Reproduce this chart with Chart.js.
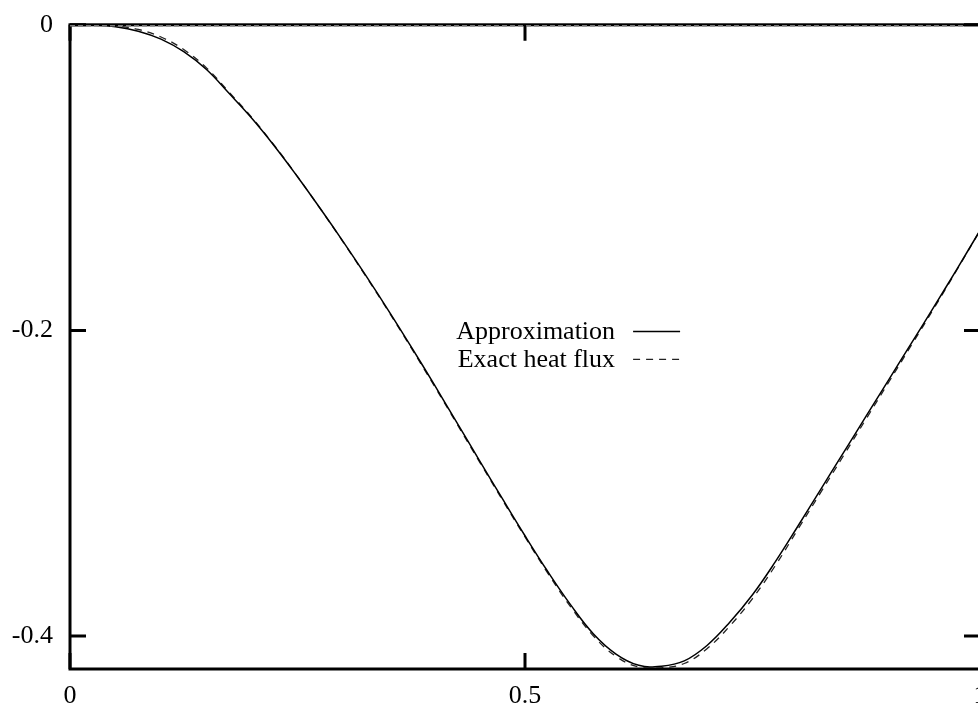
<!DOCTYPE html>
<html lang="en">
<head>
  <meta charset="UTF-8">
  <title>Heat flux approximation</title>
  <script src="https://cdn.jsdelivr.net/npm/chart.js"></script>
  <style>
    html, body { margin: 0; padding: 0; background: #fff; overflow: hidden; }
    canvas { display: block; }
  </style>
</head>
<body>
  <canvas id="fluxChart" width="1020" height="711"></canvas>

  <script>
    // Sample positions along x
    var xs = [0, 0.025, 0.05, 0.075, 0.1, 0.125, 0.15, 0.175, 0.2, 0.225,
              0.25, 0.275, 0.3, 0.325, 0.35, 0.375, 0.4, 0.425, 0.45, 0.475,
              0.5, 0.525, 0.55, 0.575, 0.6, 0.625, 0.65, 0.675, 0.7, 0.725,
              0.75, 0.775, 0.8, 0.825, 0.85, 0.875, 0.9, 0.925, 0.95, 0.975, 1];

    // Approximated heat flux
    var approximation = [0, -0.0002, -0.0013, -0.0042, -0.0094, -0.0176, -0.0293, -0.0450, -0.0613, -0.0796,
                         -0.0994, -0.1202, -0.1417, -0.1640, -0.1870, -0.2108, -0.2352, -0.2602, -0.2852, -0.3100,
                         -0.3344, -0.3578, -0.3795, -0.3985, -0.4118, -0.4192, -0.4198, -0.4163, -0.4062, -0.3910,
                         -0.3730, -0.3515, -0.3280, -0.3040, -0.2800, -0.2560, -0.2320, -0.2080, -0.1840, -0.1595, -0.1346];

    // Exact heat flux
    var exactFlux = [0, -0.0001, -0.0008, -0.0030, -0.0080, -0.0162, -0.0282, -0.0442, -0.0608, -0.0793,
                     -0.0993, -0.1203, -0.1420, -0.1645, -0.1876, -0.2115, -0.2360, -0.2610, -0.2860, -0.3108,
                     -0.3352, -0.3588, -0.3808, -0.3998, -0.4133, -0.4203, -0.4208, -0.4180, -0.4083, -0.3935,
                     -0.3755, -0.3540, -0.3300, -0.3060, -0.2820, -0.2578, -0.2336, -0.2093, -0.1850, -0.1600, -0.1346];

    var xTicks = [0, 0.5, 1];
    var yTicks = [0, -0.2, -0.4];
    var yMin = -0.4216;

    var serif = "'Liberation Serif', 'Times New Roman', serif";
    var fontSize = 26;

    function points(ys) {
      return xs.map(function(x, i) { return { x: x, y: ys[i] }; });
    }

    // Box, inward tick marks, zero axis and key
    var framePlugin = {
      id: 'frame',
      afterDatasetsDraw: function(chart) {
        var ctx = chart.ctx;
        var a = chart.chartArea;
        var sx = chart.scales.x, sy = chart.scales.y;
        var tick = 16;

        ctx.save();
        ctx.strokeStyle = '#000';
        ctx.lineWidth = 3;
        ctx.setLineDash([]);
        ctx.strokeRect(a.left, a.top, a.right - a.left, a.bottom - a.top);

        ctx.beginPath();
        yTicks.forEach(function(v) {
          var py = sy.getPixelForValue(v);
          ctx.moveTo(a.left, py); ctx.lineTo(a.left + tick, py);
          ctx.moveTo(a.right, py); ctx.lineTo(a.right - tick, py);
        });
        xTicks.forEach(function(v) {
          var px = sx.getPixelForValue(v);
          ctx.moveTo(px, a.bottom); ctx.lineTo(px, a.bottom - tick);
          ctx.moveTo(px, a.top); ctx.lineTo(px, a.top + tick);
        });
        ctx.stroke();

        // dotted zero axis
        var y0 = sy.getPixelForValue(0);
        ctx.strokeStyle = '#7a7a7a';
        ctx.lineWidth = 1.5;
        ctx.setLineDash([5, 3]);
        ctx.beginPath();
        ctx.moveTo(a.left, y0 + 1);
        ctx.lineTo(a.right - tick, y0 + 1);
        ctx.stroke();
        ctx.restore();
      },
      afterDraw: function(chart) {
        var ctx = chart.ctx;
        var a = chart.chartArea;
        var w = a.right - a.left, h = a.bottom - a.top;
        var textRight = a.left + 0.599 * w;
        var lineStart = textRight + 18, lineEnd = textRight + 65;
        var rowY = a.top + 0.476 * h;

        ctx.save();
        ctx.font = fontSize + 'px ' + serif;
        ctx.fillStyle = '#000';
        ctx.textAlign = 'right';
        ctx.textBaseline = 'middle';
        chart.data.datasets.forEach(function(ds, i) {
          var y = rowY + i * 28;
          ctx.fillText(ds.label, textRight, y + 1);
          ctx.strokeStyle = ds.borderColor;
          ctx.lineWidth = ds.borderWidth;
          ctx.setLineDash(ds.borderDash || []);
          ctx.beginPath();
          ctx.moveTo(lineStart, y);
          ctx.lineTo(lineEnd, y);
          ctx.stroke();
        });
        ctx.restore();
      }
    };

    var ctx = document.getElementById('fluxChart').getContext('2d');
    var chart = new Chart(ctx, {
      type: 'line',
      data: {
        datasets: [{
          label: 'Approximation',
          data: points(approximation),
          borderColor: '#000',
          borderWidth: 1.5,
          pointRadius: 0,
          tension: 0.4,
          fill: false
        }, {
          label: 'Exact heat flux',
          data: points(exactFlux),
          borderColor: '#222',
          borderWidth: 1.3,
          borderDash: [7, 6],
          pointRadius: 0,
          tension: 0.4,
          fill: false
        }]
      },
      options: {
        responsive: false,
        animation: false,
        layout: { padding: { top: 24, right: 40, bottom: 0, left: 0 } },
        plugins: {
          legend: { display: false },
          tooltip: { enabled: false }
        },
        scales: {
          x: {
            type: 'linear',
            min: 0,
            max: 1,
            afterFit: function(s) { s.height = 42; },
            afterBuildTicks: function(s) { s.ticks = xTicks.map(function(v) { return { value: v }; }); },
            grid: { display: false, drawTicks: false },
            border: { display: false },
            ticks: {
              color: '#000',
              padding: 12,
              maxRotation: 0,
              font: { family: serif, size: fontSize },
              callback: function(v) { return String(v); }
            }
          },
          y: {
            type: 'linear',
            min: yMin,
            max: 0,
            afterFit: function(s) { s.width = 70; },
            afterBuildTicks: function(s) { s.ticks = yTicks.map(function(v) { return { value: v }; }); },
            grid: { display: false, drawTicks: false },
            border: { display: false },
            ticks: {
              color: '#000',
              padding: 17,
              font: { family: serif, size: fontSize, lineHeight: 0.6 },
              callback: function(v) { return String(v); }
            }
          }
        }
      },
      plugins: [framePlugin]
    });
  </script>
</body>
</html>
